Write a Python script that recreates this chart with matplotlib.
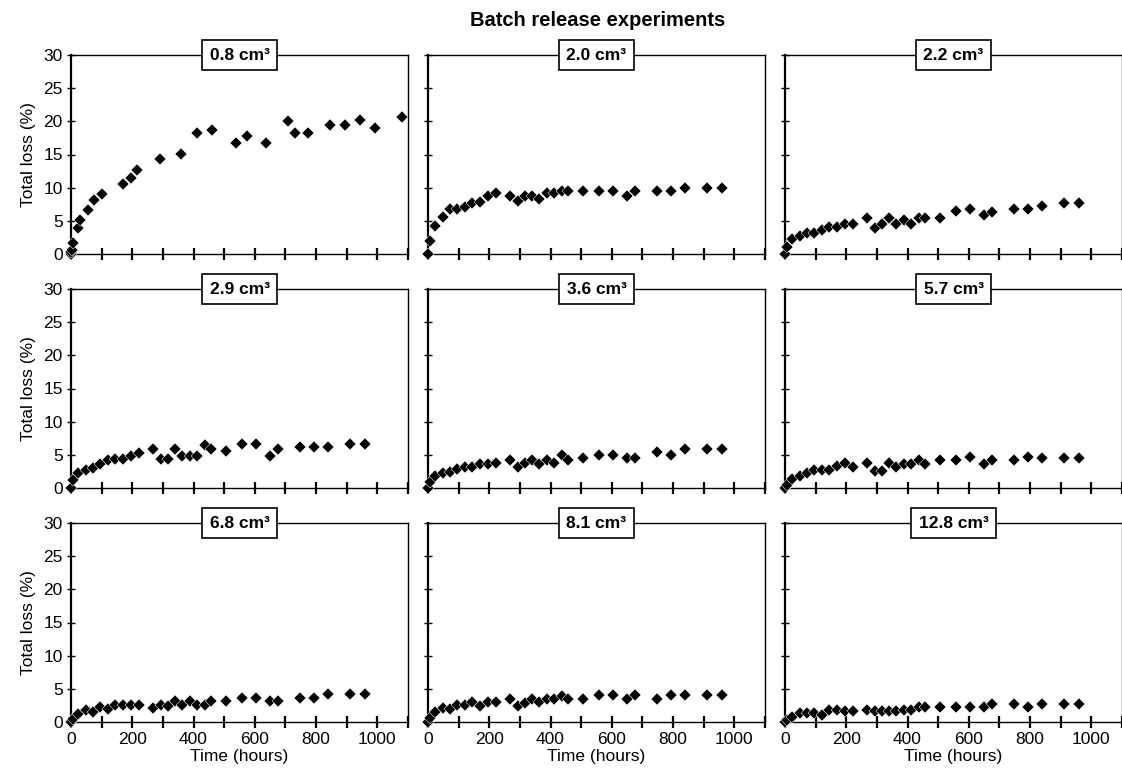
import matplotlib
matplotlib.use("Agg")
import matplotlib.pyplot as plt

plt.rcParams['font.family'] = ['Liberation Sans', 'DejaVu Sans']

# --- data (hours, % total loss) ---
labels = ['0.8 cm\u00b3', '2.0 cm\u00b3', '2.2 cm\u00b3',
          '2.9 cm\u00b3', '3.6 cm\u00b3', '5.7 cm\u00b3',
          '6.8 cm\u00b3', '8.1 cm\u00b3', '12.8 cm\u00b3']

t_08 = [0, 1, 3, 6, 22, 30, 54, 74, 100, 171, 195, 217, 290, 359, 411, 460,
        539, 574, 635, 708, 732, 774, 846, 895, 942, 991, 1082]
loss_08 = [0.0, 0.3, 0.6, 1.6, 3.85, 5.1, 6.7, 8.2, 9.1, 10.6, 11.4, 12.7, 14.3,
           15.1, 18.25, 18.7, 16.7, 17.85, 16.7, 20.0, 18.25, 18.25, 19.5,
           19.5, 20.25, 19.0, 20.65]

# shared sampling times for the other eight samples
t = [0, 5, 24, 48, 72, 96, 121, 145, 170, 195, 222, 269, 293, 316, 339, 361,
     388, 410, 436, 458, 507, 558, 604, 650, 677, 748, 792, 838, 912, 960]

loss_20 = [0.0, 2.0, 4.25, 5.55, 6.75, 6.75, 7.1, 7.65, 7.9, 8.75, 9.2, 8.8,
           7.95, 8.75, 8.8, 8.3, 9.15, 9.2, 9.55, 9.55, 9.55, 9.55, 9.55, 8.7,
           9.55, 9.55, 9.55, 9.95, 9.95, 9.95]
loss_22 = [0.0, 1.0, 2.25, 2.7, 3.1, 3.1, 3.6, 4.1, 4.1, 4.5, 4.5, 5.45, 3.9,
           4.5, 5.45, 4.5, 5.1, 4.45, 5.45, 5.45, 5.45, 6.45, 6.85, 5.85, 6.4,
           6.85, 6.85, 7.25, 7.75, 7.75]
loss_29 = [0.0, 1.15, 2.25, 2.65, 3.0, 3.55, 4.25, 4.35, 4.35, 4.8, 5.3, 5.85,
           4.35, 4.35, 5.85, 4.8, 4.8, 4.8, 6.5, 5.85, 5.65, 6.65, 6.65, 4.8,
           5.85, 6.15, 6.15, 6.15, 6.65, 6.65]
loss_36 = [0.0, 0.9, 1.75, 2.25, 2.4, 2.85, 3.15, 3.15, 3.65, 3.65, 3.7, 4.15,
           3.15, 3.75, 4.25, 3.6, 4.25, 3.75, 4.9, 4.2, 4.55, 5.05, 5.05, 4.55,
           4.55, 5.4, 5.05, 5.95, 5.95, 5.95]
loss_57 = [0.0, 0.5, 1.4, 1.85, 2.25, 2.65, 2.65, 2.65, 3.25, 3.75, 3.15, 3.75,
           2.55, 2.55, 3.75, 3.15, 3.65, 3.65, 4.25, 3.65, 4.15, 4.15, 4.65,
           3.65, 4.15, 4.15, 4.65, 4.55, 4.55, 4.55]
loss_68 = [0.0, 0.5, 1.25, 1.75, 1.55, 2.25, 2.0, 2.5, 2.6, 2.6, 2.6, 2.1, 2.6,
           2.35, 3.2, 2.6, 3.1, 2.6, 2.6, 3.1, 3.1, 3.65, 3.65, 3.1, 3.1, 3.65,
           3.65, 4.15, 4.15, 4.15]
loss_81 = [0.0, 0.65, 1.55, 2.1, 1.9, 2.5, 2.5, 3.0, 2.45, 3.0, 3.0, 3.5, 2.4,
           2.9, 3.5, 3.0, 3.4, 3.4, 3.95, 3.5, 3.5, 4.0, 4.0, 3.5, 4.0, 3.45,
           4.0, 4.0, 4.0, 4.0]
loss_128 = [0.0, 0.25, 0.75, 1.4, 1.4, 1.4, 1.1, 1.8, 1.8, 1.7, 1.7, 1.8, 1.7,
            1.7, 1.7, 1.7, 1.8, 1.8, 2.2, 2.2, 2.2, 2.2, 2.2, 2.2, 2.7, 2.7,
            2.2, 2.7, 2.7, 2.7]

series = [(t_08, loss_08), (t, loss_20), (t, loss_22),
          (t, loss_29), (t, loss_36), (t, loss_57),
          (t, loss_68), (t, loss_81), (t, loss_128)]

W, H = 1122, 772
fig = plt.figure(figsize=(W / 100, H / 100), dpi=100)

lefts = [71, 428, 785]
tops = [55, 289, 523]
aw, ah = 337, 199

for i, (x, y) in enumerate(series):
    r, c = divmod(i, 3)
    ax = fig.add_axes([lefts[c] / W, 1 - (tops[r] + ah) / H, aw / W, ah / H])
    ax.plot(x, y, linestyle='none', marker='D', markersize=6.2,
            markerfacecolor='black', markeredgecolor='white',
            markeredgewidth=0.35, clip_on=False, zorder=3)

    ax.set_xlim(0, 1100)
    ax.set_ylim(0, 30)
    ax.set_xticks(range(0, 1101, 100))
    ax.set_yticks(range(0, 31, 5))

    for side in ['top', 'right', 'bottom']:
        ax.spines[side].set_linewidth(1.0)
    ax.spines['left'].set_linewidth(1.6)
    ax.tick_params(axis='x', direction='inout', length=9, width=1.6,
                   labelsize=12.5, pad=3)
    ax.tick_params(axis='y', direction='inout', length=6, width=1.0,
                   labelsize=12.5, pad=3)

    if r == 2:
        ax.set_xticklabels([str(v) if v % 200 == 0 and v <= 1000 else ''
                            for v in range(0, 1101, 100)])
        ax.set_xlabel('Time (hours)', fontsize=12.5, labelpad=1)
    else:
        ax.set_xticklabels([])
    if c == 0:
        ax.set_ylabel('Total loss (%)', fontsize=12.5, labelpad=5)
    else:
        ax.set_yticklabels([])

    ax.text(0.5, 1.0, labels[i], transform=ax.transAxes, ha='center',
            va='center', fontsize=12.5, fontweight='bold', zorder=5,
            bbox=dict(boxstyle='square,pad=0.45', fc='white', ec='black',
                      lw=1.2))

fig.text(598 / W, 1 - 21 / H, 'Batch release experiments', ha='center',
         va='center', fontsize=14.5, fontweight='bold')

fig.savefig('out.png', dpi=100)
